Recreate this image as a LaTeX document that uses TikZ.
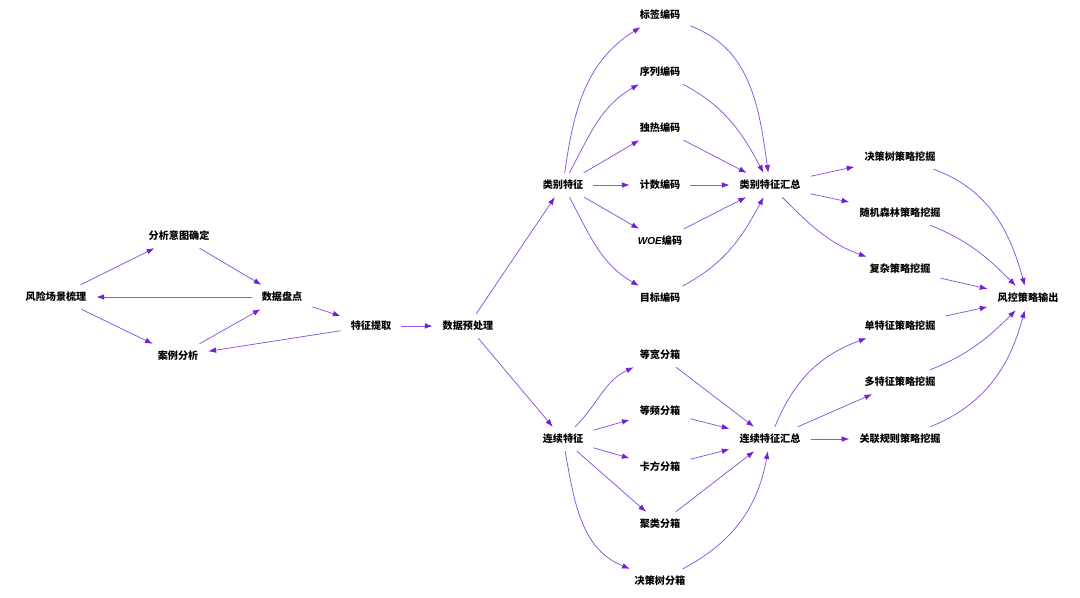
\documentclass[tikz,border=0pt]{standalone}
\usepackage{fontspec}
\setmainfont{Noto Sans CJK SC}
\newfontfamily\latinsans{Liberation Sans}
\usepackage{tikz}
\usetikzlibrary{arrows.meta}
\definecolor{edgeline}{RGB}{145,85,225}
\definecolor{edgetip}{RGB}{115,30,215}
\tikzset{
  stepnode/.style={font=\fontsize{7.2}{9}\selectfont\bfseries, inner xsep=7pt, inner ysep=5pt},
  flow/.style={draw=edgeline, line width=0.55pt, -{Latex[length=5.5pt, width=4pt, color=edgetip]}}
}
\begin{document}
\begin{tikzpicture}[x=0.025cm, y=-0.025cm]
\useasboundingbox (0,0) rectangle (1080,598);
% analysis loop
\node[stepnode] (scene)  at (56,297)  {风险场景梳理};
\node[stepnode] (intent) at (179,236) {分析意图确定};
\node[stepnode] (inv)    at (282,297) {数据盘点};
\node[stepnode] (cases)  at (178,356) {案例分析};
\node[stepnode] (feat)   at (371,326) {特征提取};
\node[stepnode] (prep)   at (468,326) {数据预处理};
% categorical branch
\node[stepnode] (cat)    at (563,185) {类别特征};
\node[stepnode] (lab)    at (660,15)  {标签编码};
\node[stepnode] (ord)    at (660,72)  {序列编码};
\node[stepnode] (onehot) at (660,128) {独热编码};
\node[stepnode] (cnt)    at (660,185) {计数编码};
\node[stepnode] (woe)    at (660,241) {{\latinsans\bfseries\itshape WOE}编码};
\node[stepnode] (tgt)    at (660,298) {目标编码};
\node[stepnode] (catsum) at (770,185) {类别特征汇总};
% continuous branch
\node[stepnode] (cont)   at (563,439) {连续特征};
\node[stepnode] (eqw)    at (660,355) {等宽分箱};
\node[stepnode] (eqf)    at (660,411) {等频分箱};
\node[stepnode] (chi)    at (660,467) {卡方分箱};
\node[stepnode] (clu)    at (660,524) {聚类分箱};
\node[stepnode] (tree)   at (660,581) {决策树分箱};
\node[stepnode] (consum) at (770,439) {连续特征汇总};
% strategy mining
\node[stepnode] (dts)    at (900,157) {决策树策略挖掘};
\node[stepnode] (rfs)    at (900,213) {随机森林策略挖掘};
\node[stepnode] (cplx)   at (900,269) {复杂策略挖掘};
\node[stepnode] (single) at (900,326) {单特征策略挖掘};
\node[stepnode] (multi)  at (900,382) {多特征策略挖掘};
\node[stepnode] (assoc)  at (900,439) {关联规则策略挖掘};
\node[stepnode] (out)    at (1028,298) {风控策略输出};

\draw[flow] (scene) -- (intent);
\draw[flow] (intent) -- (inv);
\draw[flow] (inv) -- (scene);
\draw[flow] (scene) -- (cases);
\draw[flow] (cases) -- (inv);
\draw[flow] (inv) -- (feat);
\draw[flow] (feat) -- (cases);
\draw[flow] (feat) -- (prep);
\draw[flow] (prep) -- (cat);
\draw[flow] (prep) -- (cont);

\draw[flow] (cat) to[out=82, in=212] (lab);
\draw[flow] (cat) to[out=62, in=210] (ord);
\draw[flow] (cat) -- (onehot);
\draw[flow] (cat) -- (cnt);
\draw[flow] (cat) -- (woe);
\draw[flow] (cat) to[out=-62, in=150] (tgt);
\draw[flow] (lab) to[out=-20, in=98] (catsum);
\draw[flow] (ord) to[out=-28, in=118] (catsum);
\draw[flow] (onehot) -- (catsum);
\draw[flow] (cnt) -- (catsum);
\draw[flow] (woe) -- (catsum);
\draw[flow] (tgt) to[out=28, in=-118] (catsum);

\draw[flow] (cont) to[out=45, in=205] (eqw);
\draw[flow] (cont) -- (eqf);
\draw[flow] (cont) -- (chi);
\draw[flow] (cont) -- (clu);
\draw[flow] (cont) to[out=-80, in=158] (tree);
\draw[flow] (eqw) -- (consum);
\draw[flow] (eqf) -- (consum);
\draw[flow] (chi) -- (consum);
\draw[flow] (clu) -- (consum);
\draw[flow] (tree) to[out=28, in=-100] (consum);

\draw[flow] (catsum) -- (dts);
\draw[flow] (catsum) -- (rfs);
\draw[flow] (catsum) to[out=-45, in=160] (cplx);
\draw[flow] (consum) to[out=68, in=200] (single);
\draw[flow] (consum) -- (multi);
\draw[flow] (consum) -- (assoc);

\draw[flow] (dts) to[out=-20, in=105] (out);
\draw[flow] (rfs) to[out=-22, in=135] (out);
\draw[flow] (cplx) -- (out);
\draw[flow] (single) -- (out);
\draw[flow] (multi) to[out=22, in=225] (out);
\draw[flow] (assoc) to[out=22, in=255] (out);
\end{tikzpicture}
\end{document}
